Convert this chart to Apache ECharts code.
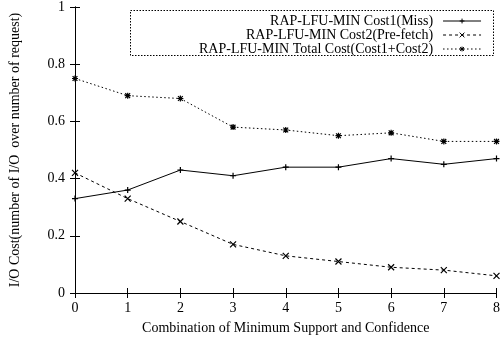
<!DOCTYPE html>
<html><head><meta charset="utf-8">
<script src="https://cdn.jsdelivr.net/npm/echarts@6/dist/echarts.min.js"></script>
<style>html,body{margin:0;padding:0;background:#fff}#c{width:503px;height:341px}</style>
</head><body><div id="c"></div>
<script>
var xValues = [0, 1, 2, 3, 4, 5, 6, 7, 8];
var cost1 = [0.33, 0.36, 0.43, 0.41, 0.44, 0.44, 0.47, 0.45, 0.47];
var cost2 = [0.42, 0.33, 0.25, 0.17, 0.13, 0.11, 0.09, 0.08, 0.06];
var total = [0.75, 0.69, 0.68, 0.58, 0.57, 0.55, 0.56, 0.53, 0.53];
var seriesNames = ['RAP-LFU-MIN Cost1(Miss)', 'RAP-LFU-MIN Cost2(Pre-fetch)', 'RAP-LFU-MIN Total Cost(Cost1+Cost2)'];
var xTitle = 'Combination of Minimum Support and Confidence';
var yTitle = 'I/O Cost(number of I/O  over number of request)';

function pairs(v){ return xValues.map(function(x,i){ return [x, v[i]]; }); }
var font = 'Liberation Serif';
var plus = 'path://M0,5L10,5M5,0L5,10';
var cross = 'path://M0,0L10,10M10,0L0,10';
var star = 'path://M0,5L10,5M5,0L5,10M1,1L9,9M9,1L1,9';

var chart = echarts.init(document.getElementById('c'));
function mk(name, data, sym, lt){
  return {
    name: name, type: 'line', data: pairs(data), symbol: sym, symbolSize: 6,
    showAllSymbol: true, animation: false,
    lineStyle: {color: '#000', width: 1, type: lt},
    itemStyle: {color: '#000', borderColor: '#000', borderWidth: 1.2}
  };
}
chart.setOption({
  animation: false,
  backgroundColor: '#fff',
  textStyle: {fontFamily: font},
  grid: {left: 73, right: 2, top: 6, bottom: 48},
  graphic: [{
    type: 'rect', left: 130, top: 10, z: 10,
    shape: {width: 363, height: 45},
    style: {fill: '#fff', stroke: '#000', lineWidth: 1, lineDash: [1.5, 1.5]}
  }],
  legend: {
    orient: 'vertical', left: 199, top: 14, z: 20,
    itemGap: 0, itemWidth: 38, itemHeight: 6, align: 'right',
    padding: 0,
    lineStyle: {width: 1},
    itemStyle: {borderWidth: 1},
    textStyle: {fontFamily: font, fontSize: 14, color: '#000', padding: [0, 5, 0, 0]},
    data: seriesNames
  },
  xAxis: [{
    type: 'value', min: 0, max: 8, interval: 1,
    name: xTitle, nameLocation: 'middle', nameGap: 28,
    nameTextStyle: {fontFamily: font, fontSize: 14, color: '#000'},
    axisLine: {lineStyle: {color: '#000', width: 1}},
    axisTick: {inside: true, length: 5, lineStyle: {color: '#000'}},
    axisLabel: {fontFamily: font, fontSize: 14, color: '#000', margin: 8},
    splitLine: {show: false}
  }, {
    type: 'value', min: 0, max: 8, interval: 1, position: 'top',
    axisLine: {lineStyle: {color: '#000', width: 1}},
    axisTick: {inside: true, length: 5, lineStyle: {color: '#000'}},
    axisLabel: {show: false}, splitLine: {show: false}
  }],
  yAxis: [{
    type: 'value', min: 0, max: 1, interval: 0.2,
    name: yTitle, nameLocation: 'middle', nameGap: 53,
    nameTextStyle: {fontFamily: font, fontSize: 14, color: '#000'},
    axisLine: {show: true, lineStyle: {color: '#000', width: 1}},
    axisTick: {show: true, inside: true, length: 5, lineStyle: {color: '#000'}},
    axisLabel: {fontFamily: font, fontSize: 14, color: '#000', margin: 10},
    splitLine: {show: false}
  }, {
    type: 'value', min: 0, max: 1, interval: 0.2, position: 'right',
    axisLine: {show: true, lineStyle: {color: '#000', width: 1}},
    axisTick: {show: true, inside: true, length: 5, lineStyle: {color: '#000'}},
    axisLabel: {show: false}, splitLine: {show: false}
  }],
  series: [
    mk(seriesNames[0], cost1, plus, 'solid'),
    mk(seriesNames[1], cost2, cross, [3, 3]),
    mk(seriesNames[2], total, star, [1.5, 2.5])
  ]
});
</script></body></html>
